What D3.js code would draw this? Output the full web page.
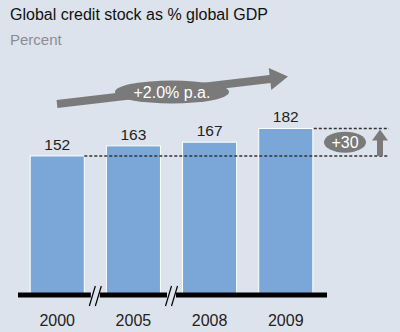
<!DOCTYPE html>
<html><head><meta charset="utf-8">
<script src="https://cdn.jsdelivr.net/npm/d3@7"></script>
<style>
html,body{margin:0;padding:0;background:#dde3ec;}
svg{display:block;font-family:"Liberation Sans",Arial,sans-serif;}
</style></head>
<body>
<svg id="c" width="400" height="332"></svg>
<script>
const years = ["2000","2005","2008","2009"];
const values = [152,163,167,182];
const title = "Global credit stock as % global GDP";
const subtitle = "Percent";
const growthLabel = "+2.0% p.a.";
const diffLabel = "+30";

const svg = d3.select("#c");
svg.append("rect").attr("width",400).attr("height",332).attr("fill","#dde3ec");

svg.append("text").attr("x",10).attr("y",20).attr("font-size",16).attr("fill","#111").text(title);
svg.append("text").attr("x",10).attr("y",45).attr("font-size",15).attr("fill","#8a8d92").text(subtitle);

const x = d3.scaleBand().domain(years).range([18,325]).paddingInner(0.29).paddingOuter(0.16);
const y = d3.scaleLinear().domain([0,200]).range([295,112]);

const bw = x.bandwidth();
svg.selectAll("rect.bar").data(values).join("rect").attr("class","bar")
  .attr("x",(d,i)=>x(years[i])).attr("y",d=>y(d))
  .attr("width",bw).attr("height",d=>y(0)-y(d))
  .attr("fill","#7ba7d8").attr("stroke","#ffffff").attr("stroke-width",1);

svg.selectAll("text.val").data(values).join("text").attr("class","val")
  .attr("x",(d,i)=>x(years[i])+bw/2).attr("y",d=>y(d)-6)
  .attr("text-anchor","middle").attr("font-size",15.5).attr("fill","#222").text(d=>d);

// dashed reference lines
const first = values[0], last = values[values.length-1];
svg.append("line").attr("x1",x(years[0])+bw).attr("x2",389).attr("y1",y(first)).attr("y2",y(first))
  .attr("stroke","#333").attr("stroke-width",1.5).attr("stroke-dasharray","3,2");
svg.append("line").attr("x1",x(years[3])+bw+1).attr("x2",389).attr("y1",y(last)).attr("y2",y(last))
  .attr("stroke","#333").attr("stroke-width",1.5).attr("stroke-dasharray","3,2");

// vertical arrow
const ax = 380;
svg.append("rect").attr("x",ax-3).attr("y",y(last)+11).attr("width",6).attr("height",y(first)-y(last)-11).attr("fill","#7a7a7a");
svg.append("path").attr("d",`M${ax-8},${y(last)+12}L${ax},${y(last)+1}L${ax+8},${y(last)+12}Z`).attr("fill","#7a7a7a");
svg.append("ellipse").attr("cx",345).attr("cy",(y(first)+y(last))/2).attr("rx",21).attr("ry",10.5).attr("fill","#7a7a7a");
svg.append("text").attr("x",345).attr("y",(y(first)+y(last))/2+5.5).attr("text-anchor","middle")
  .attr("font-size",16).attr("fill","#fff").text(diffLabel);

// axis baseline
svg.append("rect").attr("x",18).attr("y",y(0)-2.5).attr("width",309).attr("height",5).attr("fill","#000");
// break marks
[x(years[0])+bw+(x(years[1])-x(years[0])-bw)/2, x(years[1])+bw+(x(years[2])-x(years[1])-bw)/2].forEach(bx=>{
  svg.append("rect").attr("x",bx-4.5).attr("y",y(0)-5).attr("width",9).attr("height",10).attr("fill","#dde3ec");
  [-3,3].forEach(o=>{
    svg.append("line").attr("x1",bx+o-3).attr("y1",y(0)+11).attr("x2",bx+o+3).attr("y2",y(0)-9)
      .attr("stroke","#000").attr("stroke-width",1.2);
  });
});

svg.selectAll("text.yr").data(years).join("text").attr("class","yr")
  .attr("x",d=>x(d)+bw/2).attr("y",326).attr("text-anchor","middle")
  .attr("font-size",16).attr("fill","#222").text(d=>d);

// big growth arrow
const x0=57,y0=104,x1=270,y1=79;
const ang=Math.atan2(y1-y0,x1-x0);
const nx=-Math.sin(ang), ny=Math.cos(ang);
const hw=4, hh=11;
const tipX=288, tipY=76.5;
const pts=[[x0+nx*hw,y0+ny*hw],[x1+nx*hw,y1+ny*hw],[x1+nx*hh,y1+ny*hh],[tipX,tipY],[x1-nx*hh,y1-ny*hh],[x1-nx*hw,y1-ny*hw],[x0-nx*hw,y0-ny*hw]];
svg.append("path").attr("d",d3.line()(pts)+"Z").attr("fill","#7a7a7a");
svg.append("ellipse").attr("cx",172).attr("cy",92).attr("rx",57).attr("ry",11.5).attr("fill","#7a7a7a");
svg.append("text").attr("x",172).attr("y",97.5).attr("text-anchor","middle").attr("font-size",16).attr("fill","#fff").text(growthLabel);
</script>
</body></html>
